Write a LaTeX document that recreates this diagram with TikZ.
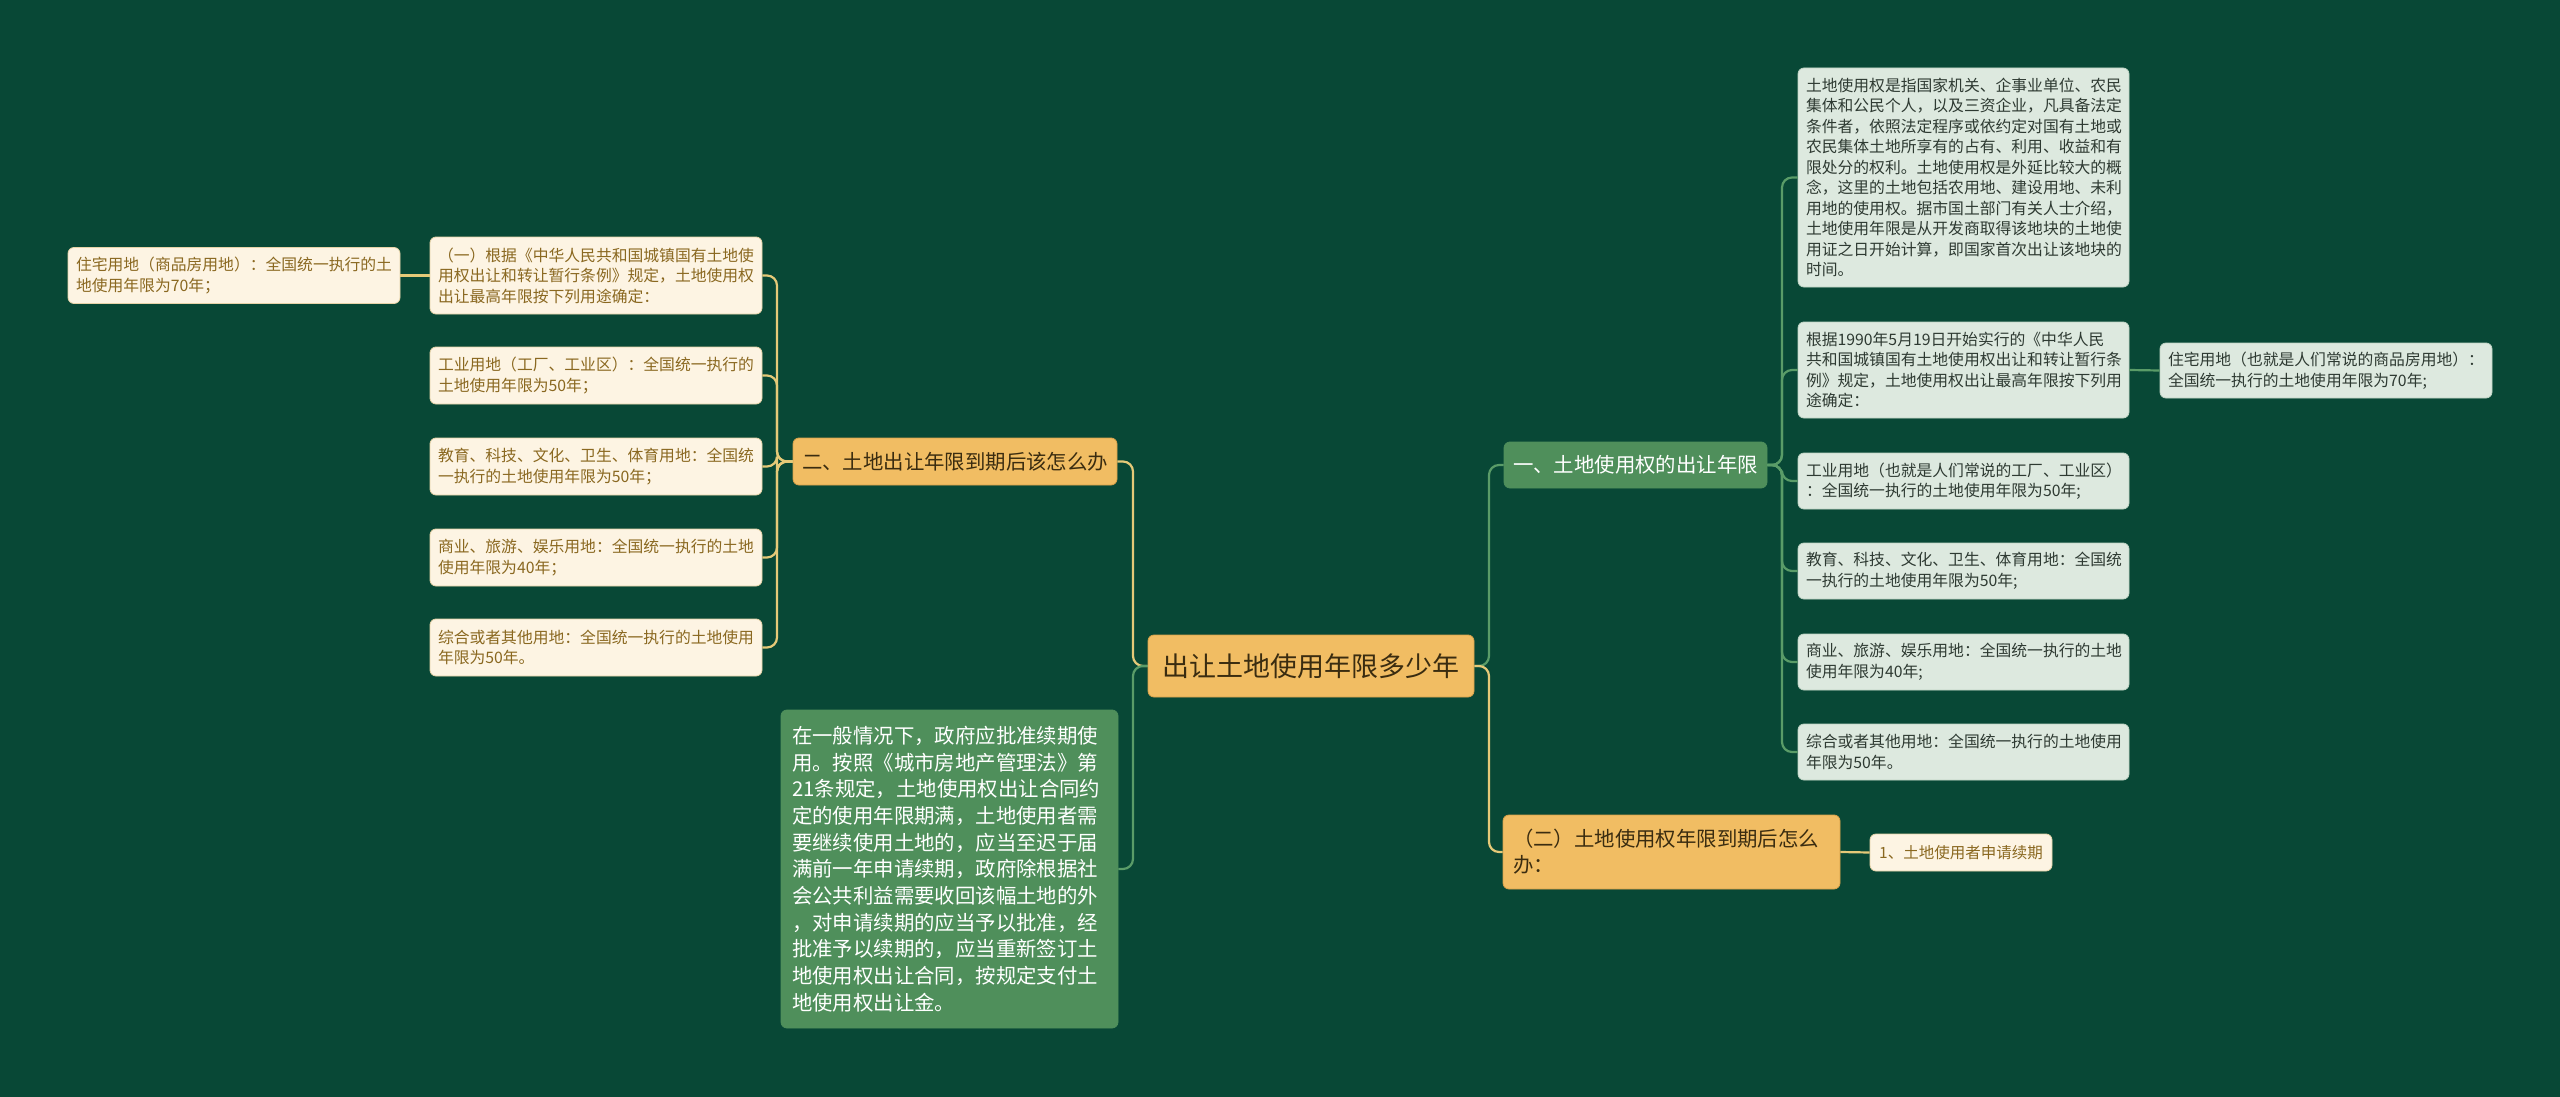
\documentclass[tikz,border=0pt]{standalone}
\usepackage{fontspec}
\setmainfont{Noto Sans CJK SC}
\definecolor{bg}{HTML}{084836}
\definecolor{orangef}{HTML}{F1BD63}
\definecolor{orangeedge}{HTML}{D9A24A}
\definecolor{orangetext}{HTML}{3A2C10}
\definecolor{creamf}{HTML}{FDF4E3}
\definecolor{creamedge}{HTML}{E6D3A8}
\definecolor{creamtext}{HTML}{8A6820}
\definecolor{greenf}{HTML}{4F8F5B}
\definecolor{greyf}{HTML}{DDE9DF}
\definecolor{greyedge}{HTML}{BFD3C4}
\definecolor{greytext}{HTML}{2E3A32}
\definecolor{yconn}{HTML}{E5C978}
\definecolor{gconn}{HTML}{5A9C68}
\begin{document}
\begin{tikzpicture}[x=1pt,y=-1pt,
  base/.style={rounded corners=6pt, align=left, inner xsep=8pt, inner ysep=0pt, line width=0.8pt},
  creambox/.style={base, fill=creamf, draw=creamedge, text=creamtext, font=\fontsize{15.8}{20.5}\selectfont},
  greybox/.style={base, fill=greyf, draw=greyedge, text=greytext, font=\fontsize{15.8}{20.5}\selectfont},
  orangebox/.style={base, fill=orangef, draw=orangeedge, text=orangetext, font=\fontsize{20.4}{26}\selectfont},
  greenbox/.style={base, fill=greenf, draw=greenf, text=white, font=\fontsize{20.4}{26.7}\selectfont},
  ylink/.style={draw=yconn, line width=2.2pt, rounded corners=10pt},
  glink/.style={draw=gconn, line width=2.2pt, rounded corners=10pt}]
\fill[bg] (0,0) rectangle (2560,1097);
\useasboundingbox (0,0) rectangle (2560,1097);

% centre
\node[orangebox, font=\fontsize{27}{32}\selectfont, inner xsep=13pt, minimum width=326pt, minimum height=62pt] (C) at (1311,666) {出让土地使用年限多少年};

% left side
\node[orangebox, minimum width=324pt, minimum height=47pt] (B2) at (955,461.5) {二、土地出让年限到期后该怎么办};
\node[greenbox, inner xsep=11pt, text width=315pt, minimum height=318pt] (G) at (949.5,869) {在一般情况下，政府应批准续期使\\用。按照《城市房地产管理法》第\\21条规定，土地使用权出让合同约\\定的使用年限期满，土地使用者需\\要继续使用土地的，应当至迟于届\\满前一年申请续期，政府除根据社\\会公共利益需要收回该幅土地的外\\，对申请续期的应当予以批准，经\\批准予以续期的，应当重新签订土\\地使用权出让合同，按规定支付土\\地使用权出让金。};

\node[creambox, text width=316pt, minimum height=77pt] (L1) at (596,275.5) {（一）根据《中华人民共和国城镇国有土地使\\用权出让和转让暂行条例》规定，土地使用权\\出让最高年限按下列用途确定：};
\node[creambox, text width=316pt, minimum height=57pt] (L2) at (596,375.5) {工业用地（工厂、工业区）：全国统一执行的\\土地使用年限为50年；};
\node[creambox, text width=316pt, minimum height=57pt] (L3) at (596,466.5) {教育、科技、文化、卫生、体育用地：全国统\\一执行的土地使用年限为50年；};
\node[creambox, text width=316pt, minimum height=57pt] (L4) at (596,557.5) {商业、旅游、娱乐用地：全国统一执行的土地\\使用年限为40年；};
\node[creambox, text width=316pt, minimum height=57pt] (L5) at (596,647.5) {综合或者其他用地：全国统一执行的土地使用\\年限为50年。};
\node[creambox, text width=316pt, minimum height=56pt] (L0) at (234,275.5) {住宅用地（商品房用地）：全国统一执行的土\\地使用年限为70年；};

% right side
\node[greenbox, minimum width=263pt, minimum height=46pt] (R1) at (1635.5,465) {一、土地使用权的出让年限};
\node[orangebox, inner xsep=10pt, text width=317pt, minimum height=74pt] (R2) at (1671.5,852) {（二）土地使用权年限到期后怎么\\办：};
\node[creambox, font=\fontsize{15.5}{19}\selectfont, inner xsep=7pt, minimum width=182pt, minimum height=37pt] (R2a) at (1961,852.5) {1、土地使用者申请续期};

\node[greybox, text width=315pt, minimum height=219pt] (Ra) at (1963.5,177.5) {土地使用权是指国家机关、企事业单位、农民\\集体和公民个人，以及三资企业，凡具备法定\\条件者，依照法定程序或依约定对国有土地或\\农民集体土地所享有的占有、利用、收益和有\\限处分的权利。土地使用权是外延比较大的概\\念，这里的土地包括农用地、建设用地、未利\\用地的使用权。据市国土部门有关人士介绍，\\土地使用年限是从开发商取得该地块的土地使\\用证之日开始计算，即国家首次出让该地块的\\时间。};
\node[greybox, text width=315pt, minimum height=96pt] (Rb) at (1963.5,370) {根据1990年5月19日开始实行的《中华人民\\共和国城镇国有土地使用权出让和转让暂行条\\例》规定，土地使用权出让最高年限按下列用\\途确定：};
\node[greybox, text width=315pt, minimum height=56pt] (Rc) at (1963.5,481) {工业用地（也就是人们常说的工厂、工业区）\\：全国统一执行的土地使用年限为50年;};
\node[greybox, text width=315pt, minimum height=56pt] (Rd) at (1963.5,571) {教育、科技、文化、卫生、体育用地：全国统\\一执行的土地使用年限为50年;};
\node[greybox, text width=315pt, minimum height=56pt] (Re) at (1963.5,662) {商业、旅游、娱乐用地：全国统一执行的土地\\使用年限为40年;};
\node[greybox, text width=315pt, minimum height=56pt] (Rf) at (1963.5,752) {综合或者其他用地：全国统一执行的土地使用\\年限为50年。};
\node[greybox, text width=316pt, minimum height=55pt] (Rb1) at (2326,370.5) {住宅用地（也就是人们常说的商品房用地）：\\全国统一执行的土地使用年限为70年;};

% trunk coordinates
\coordinate (ct) at (1133,666);
\coordinate (lt) at (777,461.5);
\coordinate (rt) at (1489,666);
\coordinate (r1t) at (1782,465);

% connectors: centre to main branches
\draw[ylink] (C.west) -- (ct) -- (ct |- B2.east) -- (B2.east);
\draw[glink] (C.west) -- (ct) -- (ct |- G.east) -- (G.east);
\draw[glink] (C.east) -- (rt) -- (rt |- R1.west) -- (R1.west);
\draw[ylink] (C.east) -- (rt) -- (rt |- R2.west) -- (R2.west);

% left branch
\foreach \n in {L1,L2,L3,L4,L5}
  \draw[ylink] (B2.west) -- (lt) -- (lt |- \n.east) -- (\n.east);
\draw[ylink] (L1.west) -- (L0.east);

% right branches
\foreach \n in {Ra,Rb,Rc,Rd,Re,Rf}
  \draw[glink] (R1.east) -- (r1t) -- (r1t |- \n.west) -- (\n.west);
\draw[glink] (Rb.east) -- (Rb1.west);
\draw[ylink] (R2.east) -- (R2a.west);
\end{tikzpicture}
\end{document}
